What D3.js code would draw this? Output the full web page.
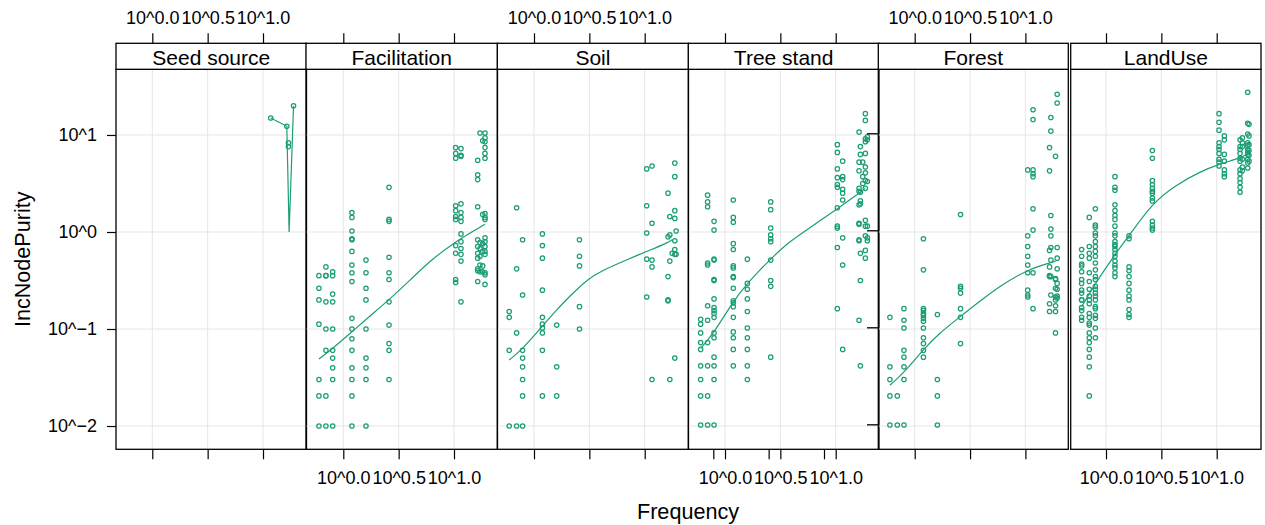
<!DOCTYPE html>
<html><head><meta charset="utf-8">
<script src="https://cdn.jsdelivr.net/npm/d3@7/dist/d3.min.js"></script>
<style>
html,body{margin:0;padding:0;background:#fff;}
svg text{font-family:"Liberation Sans",Arial,Helvetica,sans-serif;fill:#000;}
</style></head>
<body>
<svg id="chart" width="1265" height="525"></svg>
<script>
// ---------- data (values in log10 units, as plotted by lattice with log = 10) ----------
const panels = ["Seed source", "Facilitation", "Soil", "Tree stand", "Forest", "LandUse"];
const xTickValues = [0, 0.5, 1];
const xTickLabels = ["10^0.0", "10^0.5", "10^1.0"];
const yTickValues = [-2, -1, 0, 1];
const yTickLabels = ["10^\u22122", "10^\u22121", "10^0", "10^1"];

// Seed source
const seedLogFreq = [1.07, 1.215, 1.23, 1.276];
const seedLogPurity = [[1.175], [1.09], [0.92, 0.88], [1.30]];
const seedSmoothX = [1.07, 1.215, 1.236, 1.276];
const seedSmoothY = [1.175, 1.09, 0.0, 1.30];

// Facilitation
const facLogFreq = [-0.22, -0.157, -0.096, 0.078, 0.205, 0.413, 1.015, 1.063, 1.214, 1.235, 1.259, 1.28];
const facLogPurity = [
  [-0.45, -0.58, -0.70, -0.95, -1.52, -1.69, -2.00],
  [-0.36, -0.45, -0.45, -0.72, -1.00, -1.22, -1.69, -2.00],
  [-0.41, -0.45, -0.64, -0.72, -1.00, -1.22, -1.30, -1.40, -1.52, -2.00],
  [0.20, 0.15, 0.01, -0.07, -0.08, -0.20, -0.34, -0.42, -0.51, -0.89, -1.00, -1.10, -1.22, -1.40, -1.52, -1.69, -2.00],
  [-0.29, -0.42, -0.58, -0.70, -1.00, -1.30, -1.40, -1.52, -2.00],
  [0.46, 0.13, 0.11, -0.26, -0.42, -0.49, -0.72, -0.96, -1.15, -1.22, -1.52],
  [0.87, 0.81, 0.76, 0.27, 0.22, 0.16, 0.13, -0.14, -0.22, -0.49, -0.52],
  [0.86, 0.79, 0.78, 0.29, 0.20, 0.15, 0.11, -0.02, -0.10, -0.17, -0.23, -0.30, -0.72],
  [0.74, 0.59, 0.54, 0.26, -0.08, -0.15, -0.22, -0.27, -0.38, -0.40, -0.51],
  [1.02, -0.11, -0.17, -0.25, -0.34, -0.41],
  [0.94, 0.18, -0.12, -0.20, -0.35, -0.41],
  [1.02, 0.97, 0.93, 0.87, 0.81, 0.76, 0.19, 0.15, 0.13, -0.06, -0.10, -0.15, -0.20, -0.23, -0.42, -0.44, -0.54]
];
const facSmoothX = [-0.22, -0.096, 0.078, 0.205, 0.413, 0.6, 0.8, 1.015, 1.145, 1.28];
const facSmoothY = [-1.31, -1.20, -1.03, -0.90, -0.70, -0.50, -0.28, -0.10, -0.01, 0.08];

// Soil
const soilLogFreq = [-0.224, -0.157, -0.103, 0.076, 0.205, 0.411, 1.018, 1.066, 1.211, 1.227, 1.248, 1.272, 1.284];
const soilLogPurity = [
  [-0.82, -0.88, -1.22, -2.00],
  [0.25, -0.38, -1.04, -2.00],
  [-0.08, -0.65, -1.22, -1.30, -1.39, -1.52, -1.69, -2.00],
  [-0.02, -0.14, -0.27, -0.60, -0.88, -0.95, -0.99, -1.04, -1.22, -1.69],
  [-0.96, -1.39, -1.69],
  [-0.08, -0.25, -0.35, -0.77, -1.00],
  [0.65, 0.27, -0.01, -0.28, -0.67],
  [0.68, 0.09, -0.29, -0.36, -1.52],
  [0.40, -0.05, -0.46, -0.70, -0.71],
  [0.16, -0.03, -0.30, -1.52],
  [-0.22],
  [0.71, 0.57, 0.22, 0.14, -0.09, -0.18, -0.23, -1.30],
  [0.01, -0.23]
];
const soilSmoothX = [-0.224, -0.097, 0.076, 0.205, 0.326, 0.477, 0.628, 0.81, 1.018, 1.211, 1.248];
const soilSmoothY = [-1.32, -1.20, -0.97, -0.80, -0.66, -0.49, -0.39, -0.30, -0.20, -0.11, -0.08];

// Tree stand
const treeLogFreq = [-0.22, -0.157, -0.099, 0.075, 0.202, 0.413, 1.015, 1.063, 1.211, 1.223, 1.244, 1.268, 1.286];
const treeLogPurity = [
  [-0.90, -0.95, -1.04, -1.14, -1.21, -1.38, -1.52, -1.69, -1.99],
  [0.38, 0.31, 0.26, -0.32, -0.34, -0.76, -0.91, -1.14, -1.38, -1.69, -1.99],
  [0.11, 0.02, -0.28, -0.29, -0.49, -0.50, -0.69, -0.78, -0.81, -0.84, -0.88, -1.04, -1.09, -1.29, -1.38, -1.52, -1.99],
  [0.33, 0.15, 0.10, -0.12, -0.18, -0.35, -0.37, -0.46, -0.47, -0.58, -0.71, -0.73, -0.77, -0.88, -1.03, -1.09, -1.21, -1.38],
  [-0.28, -0.53, -0.59, -0.69, -0.82, -0.99, -1.09, -1.21, -1.38, -1.52],
  [0.31, 0.23, 0.04, -0.03, -0.07, -0.10, -0.29, -0.50, -0.56, -1.29],
  [0.90, 0.82, 0.65, 0.56, 0.49, 0.46, 0.25, 0.06, 0.04, -0.16, -0.79],
  [0.73, 0.57, 0.54, 0.44, 0.40, 0.33, -0.06, -0.34, -1.21],
  [1.03, 0.72, 0.63, 0.45, 0.42, 0.28, 0.09, 0.08, -0.08, -0.09, -0.91],
  [0.88, 0.80, 0.41, 0.32, 0.29, -0.22, -0.50, -1.38],
  [0.72, 0.57, 0.50],
  [1.22, 1.15, 0.96, 0.93, 0.81, 0.67, 0.61, 0.53, 0.45, 0.12, 0.06, -0.04, -0.19, -0.27],
  [0.98, 0.95, 0.52, 0.06, -0.06, -0.09]
];
const treeSmoothX = [-0.22, -0.099, 0.075, 0.202, 0.316, 0.413, 0.557, 0.738, 1.015, 1.211, 1.268];
const treeSmoothY = [-1.20, -1.04, -0.71, -0.53, -0.39, -0.28, -0.12, 0.02, 0.24, 0.40, 0.45];

// Forest
const forestLogFreq = [-0.224, -0.157, -0.097, 0.079, 0.205, 0.414, 1.021, 1.069, 1.218, 1.230, 1.272, 1.287];
const forestLogPurity = [
  [-0.88, -1.39, -1.52, -1.69, -1.99],
  [-1.69, -1.99],
  [-0.79, -0.91, -0.99, -1.22, -1.29, -1.39, -1.52, -1.99],
  [-0.07, -0.39, -0.79, -0.81, -0.84, -0.86, -0.89, -0.92, -0.99, -1.09, -1.15, -1.22, -1.29],
  [-0.85, -1.52, -1.69, -1.99],
  [0.18, -0.56, -0.58, -0.63, -0.79, -0.88, -1.15],
  [0.64, -0.04, -0.15, -0.25, -0.34, -0.42, -0.60, -0.65, -0.67],
  [1.26, 1.16, 0.64, 0.60, 0.57, 0.24, 0.02, -0.42, -0.79],
  [0.87, 0.63, -0.19, -0.36, -0.45, -0.46, -0.74, -0.82],
  [1.18, 1.04, 0.17, 0.03, -0.04, -0.16, -0.29, -0.46, -0.65],
  [0.78, -0.48, -0.49, -0.58, -0.67, -0.70, -0.76, -0.82, -1.04],
  [1.42, 1.33, -0.16, -0.27, -0.38, -0.53, -0.59, -0.66, -0.68]
];
const forestSmoothX = [-0.224, -0.097, 0.079, 0.205, 0.414, 0.592, 0.804, 1.021, 1.218, 1.272];
const forestSmoothY = [-1.58, -1.45, -1.21, -1.06, -0.87, -0.71, -0.53, -0.39, -0.32, -0.30];

// LandUse
const landLogFreq = [-0.22, -0.151, -0.096, 0.081, 0.208, 0.419, 1.021, 1.069, 1.211, 1.232, 1.28, 1.292];
const landLogPurity = [
  [-0.18, -0.25, -0.33, -0.35, -0.41, -0.49, -0.53, -0.60, -0.63, -0.70, -0.70, -0.78, -0.81, -0.88, -0.91],
  [0.15, -0.15, -0.22, -0.27, -0.42, -0.51, -0.59, -0.66, -0.70, -0.74, -0.84, -0.88, -0.94, -0.96, -1.04, -1.09, -1.14, -1.21, -1.29, -1.39, -1.69],
  [0.24, 0.07, 0.05, -0.01, -0.04, -0.10, -0.15, -0.20, -0.25, -0.32, -0.39, -0.46, -0.49, -0.56, -0.59, -0.63, -0.66, -0.70, -0.77, -0.79, -0.86, -0.89, -0.99, -1.09],
  [0.57, 0.46, 0.43, 0.28, 0.22, 0.17, 0.13, 0.06, -0.01, -0.04, -0.10, -0.13, -0.15, -0.18, -0.22, -0.25, -0.30, -0.34, -0.37, -0.42, -0.46],
  [-0.04, -0.07, -0.36, -0.40, -0.46, -0.53, -0.60, -0.66, -0.70, -0.80, -0.85, -0.88],
  [0.84, 0.76, 0.53, 0.49, 0.45, 0.42, 0.40, 0.35, 0.32, 0.11, 0.07, 0.04, 0.02],
  [1.22, 1.13, 1.05, 0.92, 0.88, 0.85, 0.81, 0.75, 0.72, 0.68],
  [0.99, 0.95, 0.80, 0.73, 0.64, 0.60, 0.57],
  [0.95, 0.88, 0.85, 0.81, 0.76, 0.73, 0.64, 0.60, 0.55, 0.51, 0.46, 0.41],
  [0.97, 0.92, 0.88, 0.75, 0.67, 0.63],
  [1.44, 1.12, 1.01, 0.92, 0.89, 0.85, 0.82, 0.80, 0.75, 0.71, 0.66],
  [1.11, 0.99, 0.90, 0.84, 0.79, 0.73]
];
const landSmoothX = [-0.22, -0.096, 0.081, 0.208, 0.419, 0.639, 0.849, 1.021, 1.211, 1.286];
const landSmoothY = [-0.77, -0.53, -0.23, -0.04, 0.30, 0.49, 0.62, 0.70, 0.76, 0.81];

// ---------- build ----------
const panelData = [
  {freq: seedLogFreq, purity: seedLogPurity, sx: seedSmoothX, sy: seedSmoothY},
  {freq: facLogFreq, purity: facLogPurity, sx: facSmoothX, sy: facSmoothY},
  {freq: soilLogFreq, purity: soilLogPurity, sx: soilSmoothX, sy: soilSmoothY},
  {freq: treeLogFreq, purity: treeLogPurity, sx: treeSmoothX, sy: treeSmoothY},
  {freq: forestLogFreq, purity: forestLogPurity, sx: forestSmoothX, sy: forestSmoothY},
  {freq: landLogFreq, purity: landLogPurity, sx: landSmoothX, sy: landSmoothY}
];

const color = "#1b9e77";
const svg = d3.select("#chart");

const stripTop = 43.3, panelTop = 69.3, panelBottom = 449.3;
const xDomain = [-0.33, 1.39];
const pxPerUnit = 110.7;
const tick0 = [152.3, 343.3, 534, 725, 914.7, 1106];
const boxLeft = [116, 306, 497.3, 688.3, 878.3, 1070.7];
const boxRight = [306.5, 497.5, 688.5, 879, 1068.3, 1261];

const y = d3.scaleLinear().domain([-2.24, 1.677]).range([panelBottom, panelTop]);

const defs = svg.append("defs");

panels.forEach((name, i) => {
  const x = d3.scaleLinear().domain(xDomain)
    .range([tick0[i] + xDomain[0] * pxPerUnit, tick0[i] + xDomain[1] * pxPerUnit]);
  const L = boxLeft[i], R = boxRight[i];
  const g = svg.append("g");

  defs.append("clipPath").attr("id", "clip" + i)
    .append("rect").attr("x", L).attr("y", panelTop).attr("width", R - L).attr("height", panelBottom - panelTop);

  // grid
  const grid = g.append("g").attr("stroke", "#e6e6e6").attr("stroke-width", 1);
  grid.selectAll("line.v").data(xTickValues).join("line")
    .attr("x1", d => x(d)).attr("x2", d => x(d)).attr("y1", panelTop).attr("y2", panelBottom);
  grid.selectAll("line.h").data(yTickValues).join("line")
    .attr("x1", L).attr("x2", R).attr("y1", d => y(d)).attr("y2", d => y(d));

  // data
  const pd = panelData[i];
  const pts = [];
  pd.freq.forEach((f, k) => pd.purity[k].forEach(p => pts.push([f, p])));
  const plot = g.append("g").attr("clip-path", `url(#clip${i})`);
  plot.selectAll("circle").data(pts).join("circle")
    .attr("cx", d => x(d[0])).attr("cy", d => y(d[1])).attr("r", 2.2)
    .attr("fill", "none").attr("stroke", color).attr("stroke-width", 1.25);
  const sm = pd.sx.map((v, k) => [v, pd.sy[k]]);
  const line = i === 0
    ? d3.line().x(d => x(d[0])).y(d => y(d[1]))
    : d3.line().x(d => x(d[0])).y(d => y(d[1])).curve(d3.curveBasis);
  plot.append("path").datum(sm).attr("d", line)
    .attr("fill", "none").attr("stroke", color).attr("stroke-width", 1.2);

  // panel & strip boxes
  g.append("rect").attr("x", L).attr("y", panelTop).attr("width", R - L).attr("height", panelBottom - panelTop)
    .attr("fill", "none").attr("stroke", "#000").attr("stroke-width", 1.3);
  g.append("rect").attr("x", L).attr("y", stripTop).attr("width", R - L).attr("height", panelTop - stripTop)
    .attr("fill", "#fff").attr("stroke", "#000").attr("stroke-width", 1.3);
  g.append("text").attr("x", (L + R) / 2).attr("y", 64.5).attr("text-anchor", "middle")
    .attr("font-size", 21).text(name);

  // top axis (ticks on all panels, labels alternate)
  const fmt = d => xTickLabels[xTickValues.indexOf(d)];
  const topAxis = d3.axisTop(x).tickValues(xTickValues).tickSize(10).tickPadding(9)
    .tickFormat(i % 2 === 0 ? fmt : () => "");
  const ta = svg.append("g").attr("transform", `translate(0,${stripTop})`).call(topAxis);
  const botAxis = d3.axisBottom(x).tickValues(xTickValues).tickSize(10).tickPadding(12)
    .tickFormat(i % 2 === 1 ? fmt : () => "");
  const ba = svg.append("g").attr("transform", `translate(0,${panelBottom})`).call(botAxis);
  [ta, ba].forEach(a => {
    a.select(".domain").remove();
    a.selectAll("line").attr("stroke", "#000").attr("stroke-width", 1.2);
    a.selectAll("text").attr("font-size", 18).attr("font-family", '"Liberation Sans",Arial,sans-serif').attr("fill", "#000");
  });

  if (i === 3) {
    // stray tick marks visible inside the Tree stand panel in the reference
    const xs = d3.scaleLinear().domain(xDomain).range(x.range().map(v => v - 11.7));
    const extra = svg.append("g").attr("transform", `translate(0,${panelBottom})`)
      .call(d3.axisBottom(xs).tickValues(xTickValues).tickSize(10).tickFormat(() => ""));
    extra.select(".domain").remove();
    extra.selectAll("line").attr("stroke-width", 1.2);
    const ys = d3.scaleLinear().domain(y.domain()).range(y.range().map(v => v - 1.7));
    const extraY = svg.append("g").attr("transform", `translate(${R},0)`)
      .call(d3.axisLeft(ys).tickValues(yTickValues).tickSize(12).tickFormat(() => ""));
    extraY.select(".domain").remove();
    extraY.selectAll("line").attr("stroke-width", 1.3);
  }
});

// left y axis
const yAxis = d3.axisLeft(y).tickValues(yTickValues).tickSize(9).tickPadding(10)
  .tickFormat(d => yTickLabels[yTickValues.indexOf(d)]);
const ya = svg.append("g").attr("transform", `translate(${boxLeft[0]},0)`).call(yAxis);
ya.select(".domain").remove();
ya.selectAll("line").attr("stroke", "#000").attr("stroke-width", 1.2);
ya.selectAll("text").attr("font-size", 18).attr("font-family", '"Liberation Sans",Arial,sans-serif').attr("fill", "#000");

// axis titles
svg.append("text").attr("x", 688).attr("y", 519).attr("text-anchor", "middle")
  .attr("font-size", 21.6).text("Frequency");
svg.append("text").attr("transform", `translate(30,${(panelTop + panelBottom) / 2}) rotate(-90)`)
  .attr("text-anchor", "middle").attr("font-size", 21.6).text("IncNodePurity");
</script>
</body></html>
